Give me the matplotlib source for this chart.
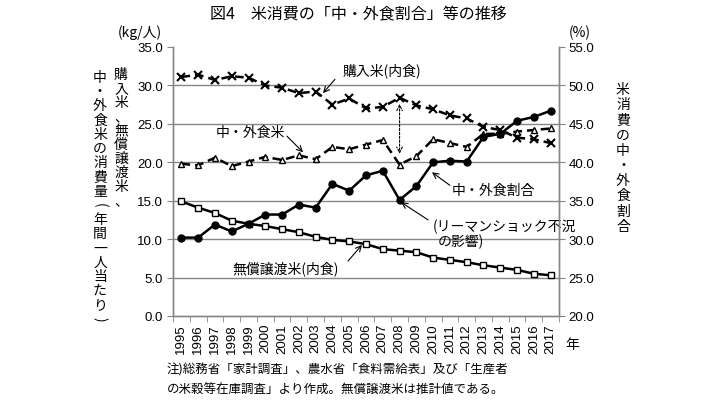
import numpy as np
import matplotlib
matplotlib.use('Agg')
import matplotlib.pyplot as plt

#Fonts
jp = ['Noto Sans CJK JP', 'DejaVu Sans']
num = ['Liberation Sans', 'DejaVu Sans']
plt.rcParams['font.family'] = jp

#Data
years = [str(y) for y in range(1995, 2018)]
purchased = [31.1,31.4,30.7,31.2,31.0,30.0,29.7,29.0,29.2,27.5,28.3,27.0,27.2,28.4,27.4,26.9,26.1,25.7,24.6,24.2,23.2,23.0,22.5]
eat_out = [19.8,19.6,20.6,19.5,20.1,20.7,20.3,20.9,20.4,22.0,21.7,22.3,22.9,19.7,20.8,23.0,22.5,22.0,23.7,23.7,24.0,24.2,24.4]
free_rice = [14.9,14.1,13.4,12.4,12.0,11.7,11.3,10.9,10.3,9.9,9.7,9.35,8.7,8.5,8.3,7.6,7.3,7.0,6.6,6.3,6.0,5.5,5.3]
share = [30.2,30.2,31.9,31.0,32.0,33.2,33.2,34.5,34.1,37.2,36.3,38.3,38.9,35.1,36.9,40.0,40.2,40.1,43.3,43.7,45.4,45.9,46.7]

W, H = 720, 406
fig = plt.figure(figsize=(W/100, H/100), dpi=100)
ax = fig.add_axes([173/W, 1-317/H, (559-173)/W, (317-48)/H])
ax2 = ax.twinx()

x = np.arange(len(years))
gcol = '#868686'

#grid lines
for g in [5, 10, 15, 20, 25, 30]:
    ax.axhline(g, color=gcol, lw=1, zorder=0)

ax.plot(x, purchased, '--', color='black', lw=1.8, dashes=(3.5, 2), marker='x', ms=5.5, mew=1.5, zorder=3)
ax.plot(x, eat_out, '--', color='black', lw=1.8, dashes=(3.5, 2), marker='^', ms=5, mfc='white', mew=1.0, zorder=3)
ax.plot(x, free_rice, '-', color='black', lw=1.8, marker='s', ms=5, mfc='white', mew=1.0, zorder=3)
ax2.plot(x, share, '-', color='black', lw=1.8, marker='o', ms=5, zorder=3)

ax.set_xlim(-0.5, len(years)-0.5)
ax.set_ylim(0, 35)
ax2.set_ylim(20, 55)
ax.set_yticks(np.arange(0, 36, 5))
ax.set_yticklabels(['%.1f' % v for v in np.arange(0, 36, 5)], family=num, fontsize=9.5)
ax2.set_yticks(np.arange(20, 56, 5))
ax2.set_yticklabels(['%.1f' % v for v in np.arange(20, 56, 5)], family=num, fontsize=9.5)
ax.set_xticks(x)
ax.set_xticklabels(years, rotation=90, family=num, fontsize=9.5)
ax.set_xticks(np.arange(-0.5, len(years), 1), minor=True)
ax.tick_params(axis='x', which='major', length=0, pad=5)
ax.tick_params(axis='x', which='minor', length=4, color=gcol, direction='out')
ax.tick_params(axis='y', length=4, color=gcol, pad=3)
ax2.tick_params(axis='y', length=4, color=gcol, pad=3)
for a in (ax, ax2):
    a.spines['top'].set_visible(False)
    for s in ['left', 'right', 'bottom']:
        a.spines[s].set_color(gcol)
        a.spines[s].set_linewidth(1)

#annotations
arr = dict(arrowstyle='->', color='black', lw=0.8, shrinkA=0, shrinkB=0)
ax.text(11.96, 32.1, '購入米(内食)', ha='center', va='center', fontsize=10)
ax.annotate('', xy=(8.44, 29.0), xytext=(9.15, 30.8), arrowprops=arr)
ax.text(4.09, 23.9, '中・外食米', ha='center', va='center', fontsize=10)
ax.annotate('', xy=(7.25, 21.3), xytext=(6.29, 23.4), arrowprops=arr)
ax.annotate('', xy=(13, 21.1), xytext=(13, 27.6),
            arrowprops=dict(arrowstyle='<->', color='black', lw=0.8, ls=(0, (2, 1.5)), shrinkA=0, shrinkB=0))
ax.text(16.1, 16.4, '中・外食割合', ha='left', va='center', fontsize=10)
ax.annotate('', xy=(14.93, 18.7), xytext=(16.0, 17.0), arrowprops=arr)
ax.text(15.0, 11.7, '(リーマンショック不況', ha='left', va='center', fontsize=10)
ax.text(15.3, 9.76, 'の影響)', ha='left', va='center', fontsize=10)
ax.annotate('', xy=(13.09, 14.8), xytext=(14.7, 12.5), arrowprops=arr)
ax.text(6.23, 6.25, '無償譲渡米(内食)', ha='center', va='center', fontsize=10)
ax.annotate('', xy=(10.76, 9.24), xytext=(9.93, 7.16), arrowprops=arr)

#title and unit labels
fig.text(358/W, 1-15/H, '図4　米消費の「中・外食割合」等の推移', ha='center', va='center', fontsize=11.5)
fig.text(140/W, 1-33/H, '(kg/人)', ha='center', va='center', fontsize=10)
fig.text(580/W, 1-33/H, '(%)', ha='center', va='center', fontsize=10)
fig.text(572/W, 1-345/H, '年', ha='center', va='center', fontsize=10)

#vertical writing, one character at a time
def vtext(s, xc, y0, step, fs=10):
    for i, ch in enumerate(s):
        rot = -90 if ch in '()' else 0
        fig.text(xc/W, 1-(y0+i*step)/H, ch, ha='center', va='center', fontsize=fs, rotation=rot)

vtext('購入米、無償譲渡米、', 121, 75, 14.0)
vtext('中・外食米の消費量(年間一人当たり)', 100, 78, 14.2)
vtext('米消費の中・外食割合', 623, 90, 15.2)

#source note
fig.text(167/W, 1-370/H, '注)総務省「家計調査」、農水省「食料需給表」及び「生産者', ha='left', va='center', fontsize=9)
fig.text(167/W, 1-390/H, 'の米穀等在庫調査」より作成。無償譲渡米は推計値である。', ha='left', va='center', fontsize=9)

fig.savefig('out.png', dpi=100)
